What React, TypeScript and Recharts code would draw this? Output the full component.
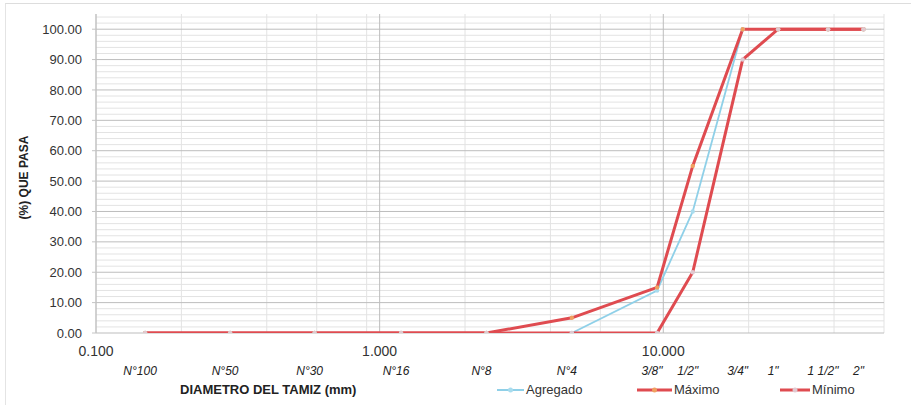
import React from "react"
import { LineChart, Line, XAxis, YAxis, CartesianGrid } from "recharts"

const SIEVES = ["N°100", "N°50", "N°30", "N°16", "N°8", "N°4", '3/8"', '1/2"', '3/4"', '1"', '1 1/2"', '2"']
const SIZES = [0.149, 0.297, 0.59, 1.19, 2.38, 4.76, 9.51, 12.7, 19.05, 25.4, 38.1, 50.8]
const AGREGADO = [0, 0, 0, 0, 0, 0, 14, 40, 100, 100, 100, 100]
const MAXIMO = [0, 0, 0, 0, 0, 5, 15, 55, 100, 100, 100, 100]
const MINIMO = [0, 0, 0, 0, 0, 0, 0, 20, 90, 100, 100, 100]

const Y_TICKS = [0, 10, 20, 30, 40, 50, 60, 70, 80, 90, 100]
const X_TICKS = [0.1, 1, 10]
const MINOR_Y = [2, 4, 6, 8, 12, 14, 16, 18, 22, 24, 26, 28, 32, 34, 36, 38, 42, 44, 46, 48, 52, 54, 56, 58, 62, 64, 66, 68, 72, 74, 76, 78, 82, 84, 86, 88, 92, 94, 96, 98, 102, 104]
const MINOR_X = [0.2, 0.3, 0.4, 0.5, 0.6, 0.7, 0.8, 0.9, 2, 3, 4, 5, 6, 7, 8, 9, 20, 30, 40, 50, 60]

const RED = "#df4b50"
const BLUE = "#8fd0e8"
const FONT = "'Liberation Sans', Arial, sans-serif"

const rows = SIZES.map((size, i) => ({
  size,
  agregado: AGREGADO[i],
  maximo: MAXIMO[i],
  minimo: MINIMO[i],
}))

const dot = (fill: string) => (p: any) => (
  <circle key={p.index} cx={p.cx} cy={p.cy} r={2.2} fill={fill} stroke="none" />
)

function LegendItem({ left, color, marker, width, label, thin }: any) {
  return (
    <div style={{ position: "absolute", left, top: 382, display: "flex", alignItems: "center" }}>
      <svg width={width} height={12}>
        <line x1={0} y1={6} x2={width} y2={6} stroke={color} strokeWidth={thin ? 2 : 3} />
        <circle cx={width / 2} cy={6} r={2.5} fill={marker} />
      </svg>
      <span style={{ fontSize: 13, color: "#333", marginLeft: 2 }}>{label}</span>
    </div>
  )
}

export default function App() {
  return (
    <div
      style={{
        position: "absolute",
        left: 0,
        top: 0,
        width: 911,
        height: 405,
        background: "#fff",
        fontFamily: FONT,
        overflow: "hidden",
      }}
    >
      <div style={{ position: "absolute", left: 5, top: 3, right: 0, bottom: 0, borderTop: "1px solid #ddd", borderLeft: "1px solid #e4e4e4" }} />
      <LineChart width={911} height={405} data={rows} margin={{ top: 14, right: 27, bottom: 24, left: 16 }}>
        <CartesianGrid stroke="#e3e3e3" horizontalValues={MINOR_Y} verticalValues={MINOR_X} xAxisId="main" />
        <CartesianGrid stroke="#bdbdbd" horizontalValues={Y_TICKS} verticalValues={X_TICKS} xAxisId="main" />
        <XAxis
          xAxisId="main"
          dataKey="size"
          type="number"
          scale="log"
          domain={[0.1, 60]}
          allowDataOverflow
          ticks={X_TICKS}
          tickFormatter={(v) => Number(v).toFixed(3)}
          axisLine={false}
          tickLine={false}
          tickSize={0}
          tickMargin={13}
          height={28}
          tick={{ fill: "#333", fontSize: 14, fontFamily: FONT }}
        />
        <XAxis
          xAxisId="sieve"
          dataKey="size"
          type="number"
          scale="log"
          domain={[0.1, 60]}
          allowDataOverflow
          ticks={SIZES}
          interval={0}
          tickFormatter={(v) => SIEVES[SIZES.indexOf(v)] ?? ""}
          axisLine={false}
          tickLine={false}
          tickSize={0}
          tickMargin={5}
          height={20}
          tick={{ fill: "#222", fontSize: 12, fontStyle: "italic", fontFamily: FONT, dx: -5 }}
        />
        <YAxis
          type="number"
          domain={[0, 105]}
          ticks={Y_TICKS}
          interval={0}
          allowDataOverflow
          tickFormatter={(v) => Number(v).toFixed(2)}
          axisLine={{ stroke: "#c4c4c4" }}
          tickLine={{ stroke: "#c4c4c4" }}
          tickSize={4}
          tickMargin={10}
          width={80}
          tick={{ fill: "#333", fontSize: 13, fontFamily: FONT }}
          label={{
            value: "(%) QUE PASA",
            angle: -90,
            position: "insideLeft",
            offset: 8,
            dy: 4,
            style: { fill: "#222", fontSize: 12, fontWeight: "bold", fontFamily: FONT, textAnchor: "middle" },
          }}
        />
        <Line xAxisId="main" dataKey="agregado" stroke={BLUE} strokeWidth={1.8} dot={dot("#a9dcee")} isAnimationActive={false} />
        <Line xAxisId="main" dataKey="maximo" stroke={RED} strokeWidth={3} dot={dot("#f0a060")} isAnimationActive={false} />
        <Line xAxisId="main" dataKey="minimo" stroke={RED} strokeWidth={3} dot={dot("#e0c8d0")} isAnimationActive={false} />
      </LineChart>
      <div style={{ position: "absolute", left: 180, top: 382, fontSize: 13, fontWeight: "bold", color: "#222" }}>
        DIAMETRO DEL TAMIZ (mm)
      </div>
      <LegendItem left={497} color={BLUE} marker="#a9dcee" width={27} label="Agregado" thin />
      <LegendItem left={637} color={RED} marker="#f0a060" width={35} label="Máximo" />
      <LegendItem left={780} color={RED} marker="#e0c8d0" width={30} label="Mínimo" />
    </div>
  )
}
